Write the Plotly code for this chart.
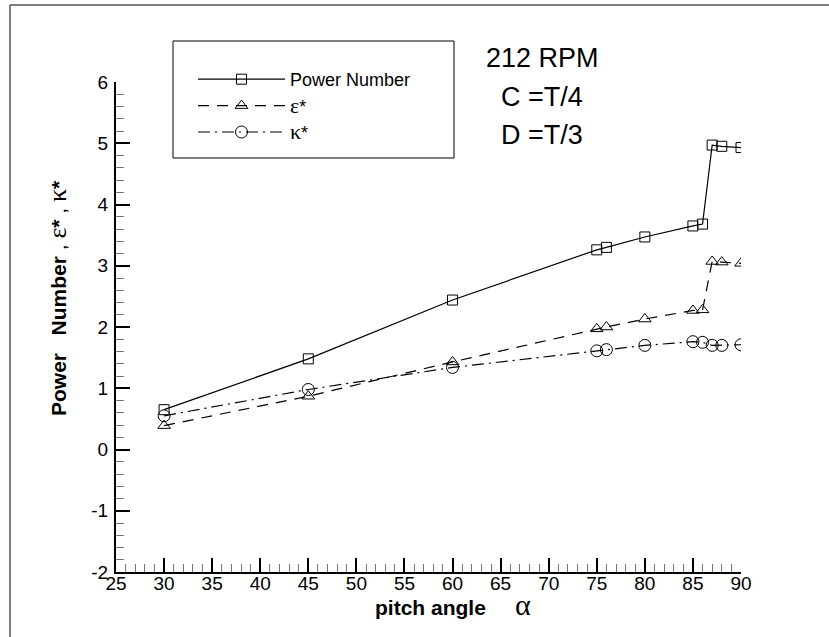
import plotly.graph_objects as go

# ---- data ----
pitch_angle = [30, 45, 60, 75, 76, 80, 85, 86, 87, 88, 90]
power_number = [0.65, 1.48, 2.44, 3.26, 3.30, 3.47, 3.65, 3.68, 4.97, 4.95, 4.93]
eps_star = [0.39, 0.87, 1.43, 1.97, 2.00, 2.13, 2.27, 2.28, 3.07, 3.06, 3.04]
kappa_star = [0.55, 0.98, 1.34, 1.61, 1.63, 1.70, 1.76, 1.75, 1.70, 1.70, 1.71]

x_ticks = list(range(25, 91, 5))
y_ticks = list(range(-2, 7, 1))

W, H = 829, 637
SCR_L, SCR_R, SCR_T, SCR_B = 116, 741, 82, 572   # plot area on screen
L, T = SCR_L, SCR_T
pw, ph = SCR_R - SCR_L, SCR_B - SCR_T
R, B = W - L - pw, H - T - ph


def px(sx):
    return (sx - SCR_L) / pw


def py(sy):
    return (SCR_B - sy) / ph


GREEK = "Liberation Serif"
SANS = "Liberation Sans, Arial, sans-serif"

fig = go.Figure()
fig.add_trace(go.Scatter(
    x=pitch_angle, y=power_number, name="Power Number", mode="lines+markers",
    line=dict(color="black", width=1.2, dash="solid"),
    marker=dict(symbol="square-open", size=10, color="black", line=dict(width=1)),
))
fig.add_trace(go.Scatter(
    x=pitch_angle, y=eps_star, mode="lines+markers",
    name=f"<span style='font-family:{GREEK};font-size:22px'>ε</span>*",
    line=dict(color="black", width=1.2, dash="11px,8px"),
    marker=dict(symbol="triangle-up-open", size=11, color="black", line=dict(width=1)),
))
fig.add_trace(go.Scatter(
    x=pitch_angle, y=kappa_star, mode="lines+markers",
    name=f"<span style='font-family:{GREEK};font-size:22px'>κ</span>*",
    line=dict(color="black", width=1.2, dash="12px,5px,2px,5px"),
    marker=dict(symbol="circle-open", size=12, color="black", line=dict(width=1)),
))

axis_common = dict(
    showline=True, linecolor="black", linewidth=2, mirror=False,
    showgrid=False, zeroline=False,
    ticks="inside", ticklen=14, tickwidth=2, tickcolor="black",
    tickfont=dict(family=SANS, size=19, color="black"),
)
fig.update_xaxes(
    range=[25, 90], tickmode="array", tickvals=x_ticks,
    ticktext=[str(v) for v in x_ticks], ticklabelstandoff=-7,
    minor=dict(ticks="inside", ticklen=8, tickwidth=1, tickcolor="#777", dtick=1, tick0=25),
    **axis_common,
)
fig.update_yaxes(
    range=[-2, 6], tickmode="array", tickvals=y_ticks,
    ticktext=[str(v) for v in y_ticks], ticklabelstandoff=2,
    minor=dict(ticks="inside", ticklen=8, tickwidth=1, tickcolor="#777", dtick=0.2, tick0=0),
    **axis_common,
)

shapes = [
    # legend box
    dict(type="rect", xref="paper", yref="paper",
         x0=px(173), x1=px(454), y0=py(158), y1=py(41),
         line=dict(color="black", width=1), fillcolor="rgba(0,0,0,0)"),
    # outer frame (left and top visible)
    dict(type="line", xref="paper", yref="paper",
         x0=px(10), x1=px(10), y0=py(5), y1=py(700),
         line=dict(color="#555", width=1.5)),
    dict(type="line", xref="paper", yref="paper",
         x0=px(10), x1=px(900), y0=py(5), y1=py(5),
         line=dict(color="#555", width=1.5)),
]

annotations = [
    dict(text="212 RPM", x=px(542), y=py(58)),
    dict(text="C =T/4", x=px(542), y=py(97)),
    dict(text="D =T/3", x=px(542), y=py(135)),
]
annotations = [dict(a, xref="paper", yref="paper", showarrow=False,
                    xanchor="center", yanchor="middle",
                    font=dict(family=SANS, size=27, color="black")) for a in annotations]

annotations.append(dict(
    text=f"<b>pitch angle</b>\u00a0\u00a0\u00a0\u00a0\u00a0<span style='font-family:{GREEK};font-size:30px'>α</span>",
    x=px(453), y=py(604), xref="paper", yref="paper", showarrow=False,
    xanchor="center", yanchor="middle",
    font=dict(family=SANS, size=21, color="black"),
))
annotations.append(dict(
    text=(f"<b>Power\u00a0\u00a0\u00a0Number</b> , <span style='font-family:{GREEK};font-size:26px'>ε</span><b>*</b>"
          f" , <span style='font-family:{GREEK};font-size:26px'>κ</span><b>*</b>"),
    x=px(57), y=py(298), xref="paper", yref="paper", showarrow=False,
    textangle=-90, xanchor="center", yanchor="middle",
    font=dict(family=SANS, size=21, color="black"),
))

fig.update_layout(
    width=W, height=H,
    margin=dict(l=L, r=R, t=T, b=B, pad=0),
    paper_bgcolor="white", plot_bgcolor="white",
    font=dict(family=SANS, color="black"),
    showlegend=True,
    legend=dict(
        x=px(193), y=py(61), xanchor="left", yanchor="top",
        bgcolor="rgba(0,0,0,0)", borderwidth=0,
        font=dict(family=SANS, size=18, color="black"),
        itemwidth=87, tracegroupgap=0,
    ),
    shapes=shapes,
    annotations=annotations,
)

fig.write_html(
    "out.html",
    config={"displayModeBar": False},
    post_script="document.body.style.margin='0';document.body.style.overflow='hidden';",
)
